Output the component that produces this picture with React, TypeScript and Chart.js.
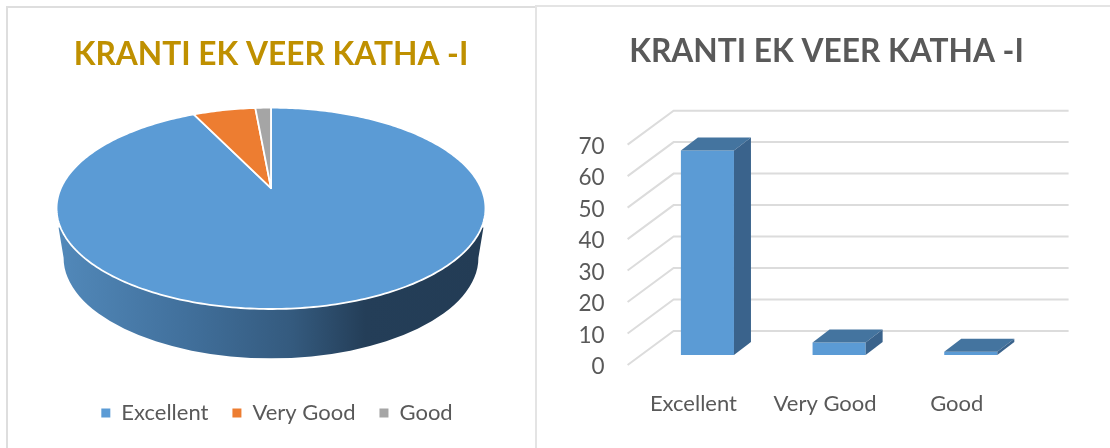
import React, { useEffect, useRef } from "react";
import { Chart, registerables } from "chart.js";

Chart.register(...registerables);

const chartTitle = "KRANTI EK VEER KATHA -I";
const categories = ["Excellent", "Very Good", "Good"];
const pieValues = [65, 4, 1];
const barValues = [65, 4, 1];
const pieColors = ["#5b9bd5", "#ed7d31", "#a5a5a5"];
const yMax = 70;
const yStep = 10;
const fontFamily = "Lato, 'Open Sans', sans-serif";

const pie3d = {
  id: "pie3d",
  beforeDatasetDraw(chart: any) {
    const { ctx } = chart;
    const arcs = chart.getDatasetMeta(0).data;
    const first = arcs[0];
    const R = first.outerRadius;
    const cx = first.x;
    const cy = first.y;
    const p = 0.2;
    const A = 0.96 * R;
    const C = 2.087 * R;
    const apexY = cy - 0.2 * R;
    const pt = (a: number) => {
      const th = a + Math.PI / 2;
      const u = Math.sin(th);
      const v = Math.cos(th);
      const d = 1 + p * v;
      return [cx + (C * u) / d, apexY - (A * v) / d];
    };
    // wall
    const rx0 = 2.13 * R;
    const wallTop = cy + 0.19 * R;
    const wallMid = cy + 0.49 * R;
    const wallRx = 2.06 * R;
    const g = ctx.createLinearGradient(cx - rx0, 0, cx + rx0, 0);
    g.addColorStop(0, "#5289ba");
    g.addColorStop(0.3, "#41709c");
    g.addColorStop(0.55, "#345a7e");
    g.addColorStop(0.72, "#243e58");
    g.addColorStop(1, "#233c55");
    ctx.save();
    ctx.beginPath();
    ctx.moveTo(cx - rx0 + 2, wallTop);
    ctx.lineTo(cx - wallRx, wallMid);
    ctx.ellipse(cx, wallMid, wallRx, R, 0, Math.PI, 0, true);
    ctx.lineTo(cx + rx0 - 2, wallTop);
    ctx.closePath();
    ctx.fillStyle = g;
    ctx.fill();
    // top faces
    arcs.forEach((el: any) => {
      ctx.beginPath();
      ctx.moveTo(cx, apexY);
      const n = Math.max(2, Math.ceil(((el.endAngle - el.startAngle) * 180) / Math.PI));
      for (let i = 0; i <= n; i++) {
        const a = el.startAngle + ((el.endAngle - el.startAngle) * i) / n;
        const q = pt(a);
        ctx.lineTo(q[0], q[1]);
      }
      ctx.closePath();
      ctx.fillStyle = el.options.backgroundColor;
      ctx.fill();
      ctx.strokeStyle = "#ffffff";
      ctx.lineWidth = 1.8;
      ctx.lineJoin = "round";
      ctx.stroke();
    });
    ctx.restore();
    return false;
  },
  afterLayout(chart: any) {
    const lg = chart.legend;
    lg.left += 6;
    lg.right += 6;
    const h = lg.bottom - lg.top;
    lg.top = 406 - h / 2;
    lg.bottom = 406 + h / 2;
    const tb = chart.titleBlock;
    tb.top += 3;
    tb.bottom += 3;
  },
};

const depth = { back: [46, -34], front: 10, bar: [17, -13] };

const bar3d = {
  id: "bar3d",
  afterLayout(chart: any) {
    const tb = chart.titleBlock;
    tb.left += 40.2;
    tb.right += 40.2;
  },
  beforeDatasetsDraw(chart: any) {
    const { ctx, scales, chartArea } = chart;
    const y = scales.y;
    ctx.save();
    ctx.strokeStyle = "#dcdcdc";
    ctx.lineWidth = 2;
    const frontLeft = chartArea.left - 14;
    y.ticks.forEach((t: any) => {
      const py = y.getPixelForValue(t.value) + depth.front;
      ctx.beginPath();
      ctx.moveTo(frontLeft, py);
      ctx.lineTo(frontLeft + depth.back[0], py + depth.back[1]);
      ctx.lineTo(frontLeft + depth.back[0] + chartArea.width, py + depth.back[1]);
      ctx.stroke();
    });
    ctx.restore();
  },
  afterDatasetsDraw(chart: any) {
    const { ctx } = chart;
    const [dx, dy] = depth.bar;
    ctx.save();
    chart.getDatasetMeta(0).data.forEach((b: any) => {
      const l = b.x - b.width / 2;
      const r = b.x + b.width / 2;
      ctx.fillStyle = "#44749f";
      ctx.beginPath();
      ctx.moveTo(l, b.y);
      ctx.lineTo(l + dx, b.y + dy);
      ctx.lineTo(r + dx, b.y + dy);
      ctx.lineTo(r, b.y);
      ctx.closePath();
      ctx.fill();
      ctx.fillStyle = "#3a638c";
      ctx.beginPath();
      ctx.moveTo(r, b.y);
      ctx.lineTo(r + dx, b.y + dy);
      ctx.lineTo(r + dx, b.base + dy);
      ctx.lineTo(r, b.base);
      ctx.closePath();
      ctx.fill();
    });
    ctx.restore();
  },
};

export default function App() {
  const pieRef = useRef<HTMLCanvasElement>(null);
  const barRef = useRef<HTMLCanvasElement>(null);

  useEffect(() => {
    const pie = new Chart(pieRef.current as any, {
      type: "pie",
      data: {
        labels: categories,
        datasets: [{ data: pieValues, backgroundColor: pieColors, borderWidth: 0 }],
      },
      options: {
        animation: false,
        responsive: false,
        layout: { padding: { bottom: 83 } },
        plugins: {
          tooltip: { enabled: false },
          title: {
            display: true,
            text: chartTitle,
            color: "#bf9000",
            font: { family: fontFamily, size: 31.7, weight: "bold" },
            padding: { top: 33, bottom: 36.6 },
          },
          legend: {
            position: "bottom",
            labels: {
              color: "#595959",
              font: { family: fontFamily, size: 22 },
              boxWidth: 9,
              boxHeight: 9,
              padding: 24,
            },
          },
        },
      },
      plugins: [pie3d],
    } as any);

    const bar = new Chart(barRef.current as any, {
      type: "bar",
      data: {
        labels: categories,
        datasets: [
          {
            data: barValues,
            backgroundColor: "#5b9bd5",
            borderWidth: 0,
            categoryPercentage: 1,
            barPercentage: 0.403,
          },
        ],
      },
      options: {
        animation: false,
        responsive: false,
        layout: { padding: { right: 73.4 } },
        scales: {
          x: {
            grid: { display: false, drawTicks: false },
            border: { display: false },
            afterFit: (s: any) => {
              s.height = 93;
            },
            ticks: {
              color: "#595959",
              font: { family: fontFamily, size: 22 },
              padding: 36,
              labelOffset: -14,
              maxRotation: 0,
            },
          },
          y: {
            min: 0,
            max: yMax,
            grid: { display: false, drawTicks: false },
            border: { display: false },
            afterFit: (s: any) => {
              s.width = 105.6;
            },
            ticks: {
              stepSize: yStep,
              color: "#595959",
              font: { family: fontFamily, size: 22.5 },
              padding: 37,
              labelOffset: 12,
            },
          },
        },
        plugins: {
          tooltip: { enabled: false },
          legend: { display: false },
          title: {
            display: true,
            text: chartTitle,
            color: "#595959",
            font: { family: fontFamily, size: 31.7, weight: "bold" },
            padding: { top: 33, bottom: 63.6 },
          },
        },
      },
      plugins: [bar3d],
    } as any);

    return () => {
      pie.destroy();
      bar.destroy();
    };
  }, []);

  return (
    <div
      style={{
        position: "fixed",
        left: 0,
        top: 0,
        width: 1110,
        height: 448,
        overflow: "hidden",
        background: "#fff",
      }}
    >
      <div
        style={{
          position: "absolute",
          left: 6,
          top: 6,
          width: 527,
          height: 460,
          border: "2px solid #dedede",
        }}
      />
      <div
        style={{
          position: "absolute",
          left: 535,
          top: 5,
          width: 600,
          height: 460,
          borderLeft: "2px solid #e4e4e4",
          borderTop: "2px solid #e4e4e4",
        }}
      />
      <canvas
        ref={pieRef}
        width={536}
        height={448}
        style={{ position: "absolute", left: 3, top: 0 }}
      />
      <canvas
        ref={barRef}
        width={574}
        height={448}
        style={{ position: "absolute", left: 536, top: 0 }}
      />
    </div>
  );
}
